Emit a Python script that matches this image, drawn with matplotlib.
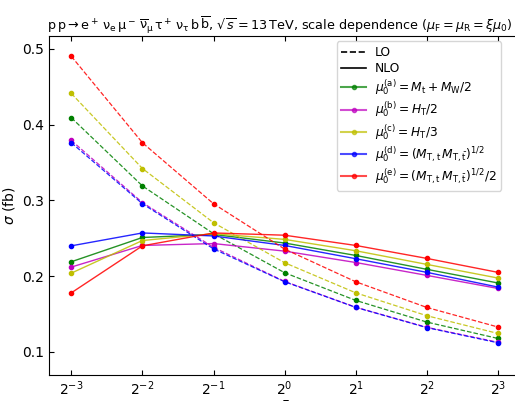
import numpy as np
import matplotlib
matplotlib.use("Agg")
import matplotlib.pyplot as plt
from matplotlib.lines import Line2D

# scale factor xi = 2^k
xi_exp = [-3, -2, -1, 0, 1, 2, 3]

# LO cross sections (fb)
lo_a = [0.409, 0.319, 0.256, 0.2045, 0.168, 0.1394, 0.1178]
lo_b = [0.379, 0.297, 0.238, 0.193, 0.159, 0.1325, 0.1128]
lo_c = [0.441, 0.342, 0.2705, 0.2177, 0.178, 0.1478, 0.1244]
lo_d = [0.376, 0.2955, 0.236, 0.1926, 0.1588, 0.1321, 0.1121]
lo_e = [0.490, 0.376, 0.2955, 0.2357, 0.1926, 0.1587, 0.1329]

# NLO cross sections (fb)
nlo_a = [0.219, 0.251, 0.255, 0.2437, 0.2273, 0.209, 0.191]
nlo_b = [0.212, 0.2405, 0.243, 0.233, 0.218, 0.201, 0.1838]
nlo_c = [0.204, 0.247, 0.256, 0.2485, 0.2335, 0.2155, 0.1975]
nlo_d = [0.240, 0.257, 0.253, 0.2405, 0.223, 0.205, 0.1856]
nlo_e = [0.178, 0.240, 0.257, 0.254, 0.2405, 0.2234, 0.205]

labels = [
    r"$\mu_0^{(\mathrm{a})} = M_\mathrm{t} + M_\mathrm{W}/2$",
    r"$\mu_0^{(\mathrm{b})} = H_\mathrm{T}/2$",
    r"$\mu_0^{(\mathrm{c})} = H_\mathrm{T}/3$",
    r"$\mu_0^{(\mathrm{d})} = (M_{\mathrm{T,t}}\,M_{\mathrm{T,\bar{t}}})^{1/2}$",
    r"$\mu_0^{(\mathrm{e})} = (M_{\mathrm{T,t}}\,M_{\mathrm{T,\bar{t}}})^{1/2}/2$",
]
colors = ["g", "m", "y", "b", "r"]

fig = plt.figure(figsize=(5.15, 4.01), dpi=100)
ax = fig.add_axes([0.0957, 0.0656, 0.914, 0.845])

xi = 2.0 ** np.array(xi_exp)
handles = [Line2D([], [], color="k", ls="--", lw=1.2, label="LO"),
           Line2D([], [], color="k", ls="-", lw=1.2, label="NLO")]
for lo, nlo, c, lab in zip([lo_a, lo_b, lo_c, lo_d, lo_e],
                           [nlo_a, nlo_b, nlo_c, nlo_d, nlo_e], colors, labels):
    ax.plot(xi, lo, ls="--", color=c, lw=0.9, alpha=0.85)
    ax.plot(xi, lo, ls="none", marker="o", ms=3, color=c)
    ax.plot(xi, nlo, ls="-", color=c, lw=1.0, alpha=0.85)
    ax.plot(xi, nlo, ls="none", marker="o", ms=3, color=c)
    handles.append(Line2D([], [], color=c, lw=1.5, alpha=0.7, marker="o", ms=3,
                          markerfacecolor=c, markeredgecolor=c, label=lab))

ax.set_xscale("log", base=2)
ax.set_xlim(2 ** -3.31, 2 ** 3.31)
ax.set_ylim(0.070, 0.517)
ax.set_xticks(xi)
ax.set_xticklabels([r"$2^{%d}$" % k for k in xi_exp])
ax.minorticks_off()
ax.set_yticks([0.1, 0.2, 0.3, 0.4, 0.5])
ax.tick_params(direction="in", top=True, right=True, labelsize=10)
ax.set_xlabel(r"$\xi$", labelpad=0)
ax.set_ylabel(r"$\sigma$ (fb)", labelpad=4)

ax.legend(handles=handles, loc="upper right", bbox_to_anchor=(0.9735, 1.002),
          fontsize=8.8, handlelength=2.0, labelspacing=0.22, borderpad=0.4,
          handletextpad=0.75, framealpha=0.8)

ax.set_title(r"$\mathrm{p\,p \to e^+\,\nu_e\,\mu^-\,\overline{\nu}_\mu\,\tau^+\,\nu_\tau\,b\,\overline{b}}$, "
             r"$\sqrt{s} = 13\,\mathrm{TeV}$, scale dependence ($\mu_\mathrm{F} = \mu_\mathrm{R} = \xi\mu_0$)",
             fontsize=9.2, loc="left", pad=4, x=-0.004)

fig.savefig("out.png", dpi=100)
